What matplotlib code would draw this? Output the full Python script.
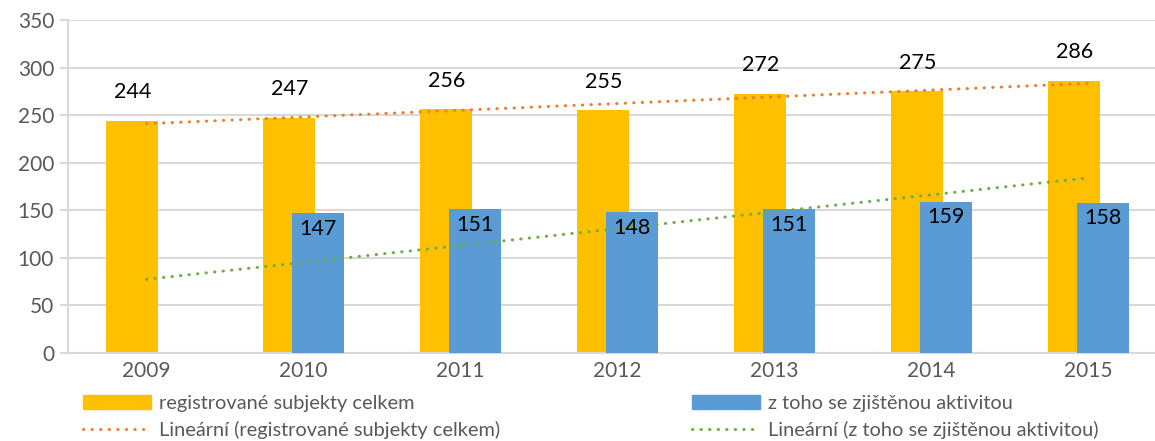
# -*- coding: utf-8 -*-
import numpy as np
import matplotlib
matplotlib.use('Agg')
import matplotlib.pyplot as plt
from matplotlib.patches import Patch
from matplotlib.lines import Line2D

plt.rcParams['font.family'] = ['Lato', 'DejaVu Sans']

years = ['2009', '2010', '2011', '2012', '2013', '2014', '2015']
registered = [244, 247, 256, 255, 272, 275, 286]
active = [0, 147, 151, 148, 151, 159, 158]   # 2009 not reported

label_reg = 'registrované subjekty celkem'
label_act = 'z toho se zjištěnou aktivitou'
label_reg_tr = 'Lineární (registrované subjekty celkem)'
label_act_tr = 'Lineární (z toho se zjištěnou aktivitou)'

c_yellow = '#FFC000'
c_blue = '#5B9BD5'
c_orange = '#ED7D31'
c_green = '#70AD47'
c_grid = '#D9D9D9'
c_tick = '#595959'

fig = plt.figure(figsize=(11.55, 4.41), dpi=100)
ax = fig.add_axes([68/1155, 88.3/441, 1 - 68/1155, 332.7/441])

x = np.arange(len(years))
w = 0.33
reg_bars = ax.bar(x - 0.09, registered, w, color=c_yellow, zorder=2)
act_bars = ax.bar(x + 0.09, active, w, color=c_blue, zorder=3)

### linear trends (least squares, like excel)
dot = (0, (0.1, 2.7))
for vals, col in [(registered, c_orange), (active, c_green)]:
    k, q = np.polyfit(x + 1, vals, 1)
    ax.plot(x, k*(x + 1) + q, color=col, lw=2.2, linestyle=dot,
            dash_capstyle='round', zorder=4)

### data labels
for b, v in zip(reg_bars, registered):
    ax.annotate(str(v), (b.get_x() + b.get_width()/2, v), xytext=(0, 13.5),
                textcoords='offset points', ha='center', va='bottom',
                fontsize=15.5, color='black', zorder=5)
for b, v in zip(act_bars, active):
    if v == 0:
        continue
    ax.annotate(str(v), (b.get_x() + b.get_width()/2, v), xytext=(0, -4),
                textcoords='offset points', ha='center', va='top',
                fontsize=15.5, color='black', zorder=5)

ax.set_xlim(-0.5, (1155 - 68)/157 - 0.5)
ax.set_ylim(0, 350)
ax.set_yticks(np.arange(0, 351, 50))
ax.set_xticks(x)
ax.set_xticklabels(years)
ax.grid(axis='y', color=c_grid, lw=1.5, zorder=0)
ax.set_axisbelow(True)

for s in ['top', 'right']:
    ax.spines[s].set_visible(False)
for s in ['left', 'bottom']:
    ax.spines[s].set_color(c_grid)
    ax.spines[s].set_linewidth(1.5)
ax.tick_params(axis='y', length=6, width=1.5, color=c_grid, labelcolor=c_tick,
               labelsize=15, pad=4)
ax.tick_params(axis='x', length=0, labelcolor=c_tick, labelsize=15, pad=6)

### legend below
handles = [Patch(color=c_yellow),
           Line2D([], [], color=c_orange, lw=2.2, linestyle=dot, dash_capstyle='round'),
           Patch(color=c_blue),
           Line2D([], [], color=c_green, lw=2.2, linestyle=dot, dash_capstyle='round')]
labels = [label_reg, label_reg_tr, label_act, label_act_tr]
leg = fig.legend(handles, labels, ncol=2, loc='upper left',
                 bbox_to_anchor=(83/1155, 1 - 395/441), frameon=False,
                 fontsize=14.4, handlelength=3.4, handleheight=0.65,
                 handletextpad=0.4, labelspacing=0.45, columnspacing=9.6,
                 borderpad=0, borderaxespad=0)
for t in leg.get_texts():
    t.set_color(c_tick)

fig.savefig('out.png', dpi=100)
